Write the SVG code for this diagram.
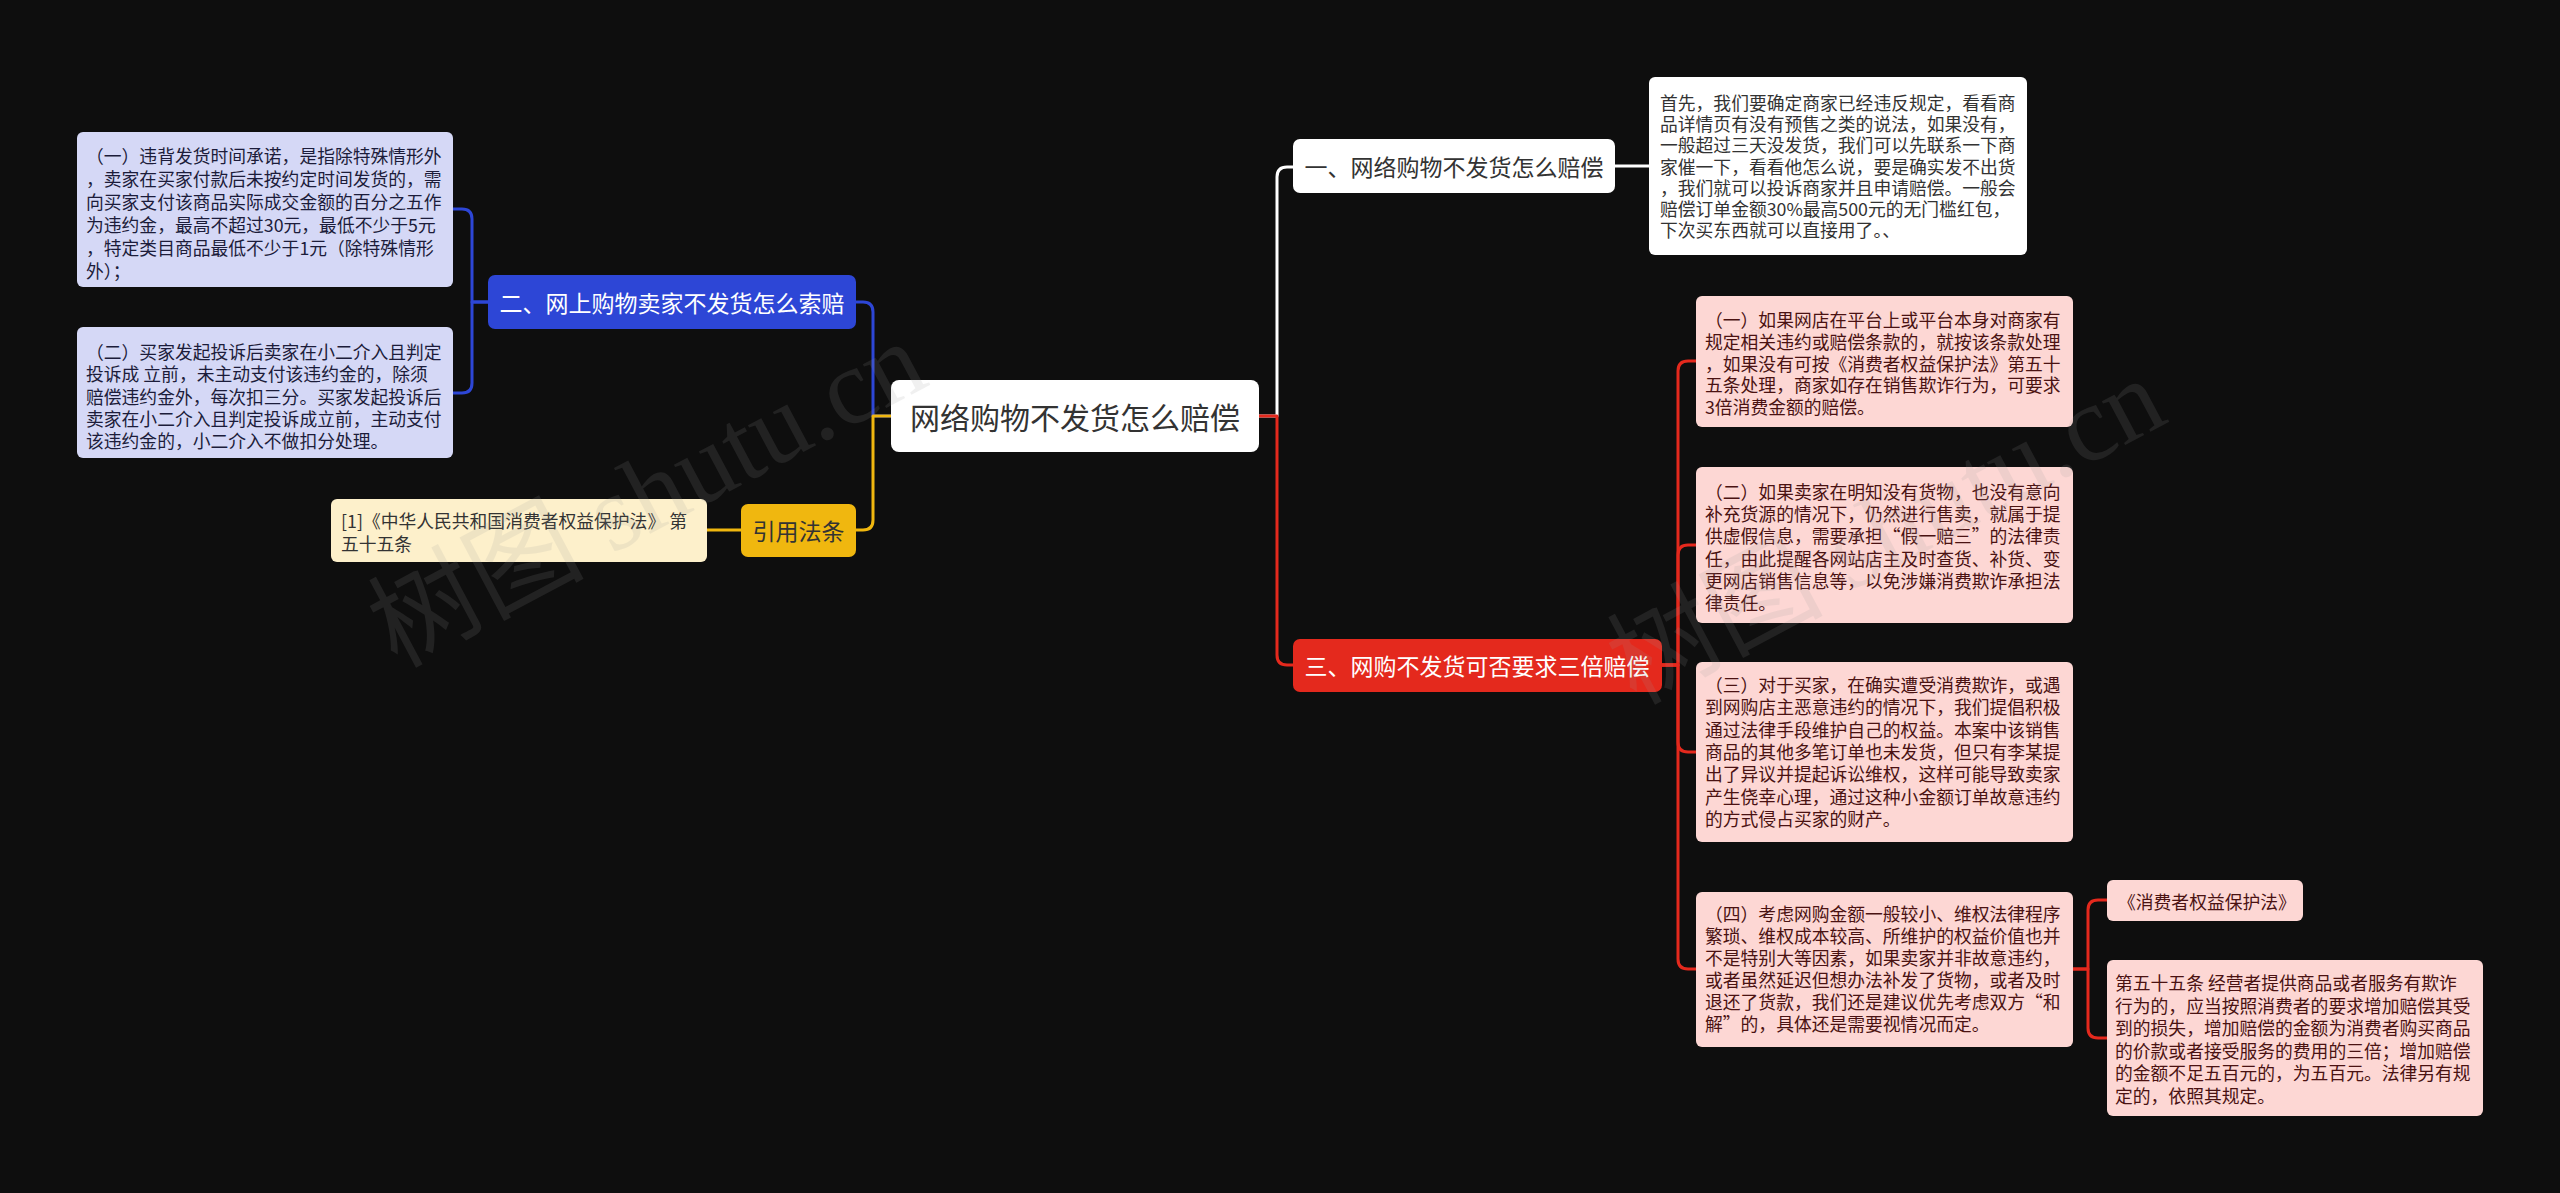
<svg xmlns="http://www.w3.org/2000/svg" width="2560" height="1193" viewBox="0 0 2560 1193">
<defs>
<style>
.t{font-family:"Noto Sans CJK SC","Noto Sans",sans-serif;}
.d{font-size:17.8px;dominant-baseline:central;}
.h{font-size:23px;dominant-baseline:central;text-anchor:middle;}
.c{fill:none;stroke-width:3;stroke-linecap:round;stroke-linejoin:round;}
.wm{font-family:"Liberation Serif","Noto Sans CJK SC",serif;font-size:108px;fill:#9a9a9a;opacity:0.14;}
</style>
</defs>
<rect x="0" y="0" width="2560" height="1193" fill="#0e0e0e"/>

<g id="connectors">
  <path class="c" stroke="#ffffff" d="M1259,416 H1277 V177 Q1277,167 1287,167 H1293"/>
  <path class="c" stroke="#e4291d" d="M1259,416 H1277 V655 Q1277,665 1287,665 H1293"/>
  <path class="c" stroke="#ffffff" d="M1615,166 H1649"/>
  <path class="c" stroke="#e4291d" d="M1662,665 H1678 V371 Q1678,361 1688,361 H1696"/>
  <path class="c" stroke="#e4291d" d="M1662,665 H1678 V555 Q1678,545 1688,545 H1696"/>
  <path class="c" stroke="#e4291d" d="M1662,665 H1678 V742 Q1678,752 1688,752 H1696"/>
  <path class="c" stroke="#e4291d" d="M1662,665 H1678 V959 Q1678,969 1688,969 H1696"/>
  <path class="c" stroke="#e4291d" d="M2073,969 H2088 V910 Q2088,900 2098,900 H2107"/>
  <path class="c" stroke="#e4291d" d="M2073,969 H2088 V1028 Q2088,1038 2098,1038 H2107"/>
  <path class="c" stroke="#2d46d6" d="M891,416 H873 V312 Q873,302 863,302 H856"/>
  <path class="c" stroke="#f0b70f" d="M891,416 H873 V520 Q873,530 863,530 H856"/>
  <path class="c" stroke="#2d46d6" d="M488,302 H472 V219 Q472,209 462,209 H453"/>
  <path class="c" stroke="#2d46d6" d="M488,302 H472 V383 Q472,393 462,393 H453"/>
  <path class="c" stroke="#f0b70f" d="M741,530 H707"/>
</g>

<g id="center">
  <rect x="891" y="380" width="368" height="72" rx="8" fill="#ffffff"/>
  <text class="t" x="1075" y="416" font-size="30" fill="#333333" text-anchor="middle" dominant-baseline="central">网络购物不发货怎么赔偿</text>
</g>

<g id="n1">
  <rect x="1293" y="139" width="322" height="54" rx="7" fill="#ffffff"/>
  <text class="t h" x="1454" y="166" fill="#333333">一、网络购物不发货怎么赔偿</text>
</g>
<g id="n1-detail">
  <rect x="1649" y="77" width="378" height="178" rx="6" fill="#ffffff"/>
  <text class="t d" fill="#333333">
    <tspan x="1660" y="102">首先，我们要确定商家已经违反规定，看看商</tspan>
    <tspan x="1660" y="123.2">品详情页有没有预售之类的说法，如果没有，</tspan>
    <tspan x="1660" y="144.4">一般超过三天没发货，我们可以先联系一下商</tspan>
    <tspan x="1660" y="165.6">家催一下，看看他怎么说，要是确实发不出货</tspan>
    <tspan x="1660" y="186.8">，我们就可以投诉商家并且申请赔偿。一般会</tspan>
    <tspan x="1660" y="208">赔偿订单金额30%最高500元的无门槛红包，</tspan>
    <tspan x="1660" y="229.2">下次买东西就可以直接用了。、</tspan>
  </text>
</g>

<g id="n3">
  <rect x="1293" y="639" width="369" height="53" rx="7" fill="#e4291d"/>
  <text class="t h" x="1477" y="665" fill="#ffffff">三、网购不发货可否要求三倍赔偿</text>
</g>
<g id="n3-1">
  <rect x="1696" y="296" width="377" height="131" rx="6" fill="#fdd7d4"/>
  <text class="t d" fill="#4a1212">
    <tspan x="1705" y="319">（一）如果网店在平台上或平台本身对商家有</tspan>
    <tspan x="1705" y="340.8">规定相关违约或赔偿条款的，就按该条款处理</tspan>
    <tspan x="1705" y="362.6">，如果没有可按《消费者权益保护法》第五十</tspan>
    <tspan x="1705" y="384.4">五条处理，商家如存在销售欺诈行为，可要求</tspan>
    <tspan x="1705" y="406.2">3倍消费金额的赔偿。</tspan>
  </text>
</g>
<g id="n3-2">
  <rect x="1696" y="467" width="377" height="156" rx="6" fill="#fdd7d4"/>
  <text class="t d" fill="#4a1212">
    <tspan x="1705" y="491">（二）如果卖家在明知没有货物，也没有意向</tspan>
    <tspan x="1705" y="513.2">补充货源的情况下，仍然进行售卖，就属于提</tspan>
    <tspan x="1705" y="535.4">供虚假信息，需要承担“假一赔三”的法律责</tspan>
    <tspan x="1705" y="557.6">任，由此提醒各网站店主及时查货、补货、变</tspan>
    <tspan x="1705" y="579.8">更网店销售信息等，以免涉嫌消费欺诈承担法</tspan>
    <tspan x="1705" y="602">律责任。</tspan>
  </text>
</g>
<g id="n3-3">
  <rect x="1696" y="662" width="377" height="180" rx="6" fill="#fdd7d4"/>
  <text class="t d" fill="#4a1212">
    <tspan x="1705" y="684">（三）对于买家，在确实遭受消费欺诈，或遇</tspan>
    <tspan x="1705" y="706.3">到网购店主恶意违约的情况下，我们提倡积极</tspan>
    <tspan x="1705" y="728.6">通过法律手段维护自己的权益。本案中该销售</tspan>
    <tspan x="1705" y="750.9">商品的其他多笔订单也未发货，但只有李某提</tspan>
    <tspan x="1705" y="773.2">出了异议并提起诉讼维权，这样可能导致卖家</tspan>
    <tspan x="1705" y="795.5">产生侥幸心理，通过这种小金额订单故意违约</tspan>
    <tspan x="1705" y="817.8">的方式侵占买家的财产。</tspan>
  </text>
</g>
<g id="n3-4">
  <rect x="1696" y="892" width="377" height="155" rx="6" fill="#fdd7d4"/>
  <text class="t d" fill="#4a1212">
    <tspan x="1705" y="913">（四）考虑网购金额一般较小、维权法律程序</tspan>
    <tspan x="1705" y="935">繁琐、维权成本较高、所维护的权益价值也并</tspan>
    <tspan x="1705" y="957">不是特别大等因素，如果卖家并非故意违约，</tspan>
    <tspan x="1705" y="979">或者虽然延迟但想办法补发了货物，或者及时</tspan>
    <tspan x="1705" y="1001">退还了货款，我们还是建议优先考虑双方“和</tspan>
    <tspan x="1705" y="1023">解”的，具体还是需要视情况而定。</tspan>
  </text>
</g>
<g id="n3-4-1">
  <rect x="2107" y="880" width="196" height="41" rx="6" fill="#fdd7d4"/>
  <text class="t d" x="2118" y="901" fill="#4a1212">《消费者权益保护法》</text>
</g>
<g id="n3-4-2">
  <rect x="2107" y="960" width="376" height="156" rx="6" fill="#fdd7d4"/>
  <text class="t d" fill="#4a1212" xml:space="preserve"><tspan x="2115" y="982">第五十五条 经营者提供商品或者服务有欺诈</tspan><tspan x="2115" y="1004.6">行为的，应当按照消费者的要求增加赔偿其受</tspan><tspan x="2115" y="1027.2">到的损失，增加赔偿的金额为消费者购买商品</tspan><tspan x="2115" y="1049.8">的价款或者接受服务的费用的三倍；增加赔偿</tspan><tspan x="2115" y="1072.4">的金额不足五百元的，为五百元。法律另有规</tspan><tspan x="2115" y="1095">定的，依照其规定。</tspan></text>
</g>

<g id="n2">
  <rect x="488" y="275" width="368" height="54" rx="7" fill="#2d46d6"/>
  <text class="t h" x="672" y="302" fill="#ffffff">二、网上购物卖家不发货怎么索赔</text>
</g>
<g id="n2-1">
  <rect x="77" y="132" width="376" height="155" rx="6" fill="#d5d8f6"/>
  <text class="t d" fill="#1c1c3a">
    <tspan x="86" y="155">（一）违背发货时间承诺，是指除特殊情形外</tspan>
    <tspan x="86" y="178">，卖家在买家付款后未按约定时间发货的，需</tspan>
    <tspan x="86" y="201">向买家支付该商品实际成交金额的百分之五作</tspan>
    <tspan x="86" y="224">为违约金，最高不超过30元，最低不少于5元</tspan>
    <tspan x="86" y="247">，特定类目商品最低不少于1元（除特殊情形</tspan>
    <tspan x="86" y="270">外）；</tspan>
  </text>
</g>
<g id="n2-2">
  <rect x="77" y="327" width="376" height="131" rx="6" fill="#d5d8f6"/>
  <text class="t d" fill="#1c1c3a" xml:space="preserve"><tspan x="86" y="351">（二）买家发起投诉后卖家在小二介入且判定</tspan><tspan x="86" y="373.3">投诉成 立前，未主动支付该违约金的，除须</tspan><tspan x="86" y="395.6">赔偿违约金外，每次扣三分。买家发起投诉后</tspan><tspan x="86" y="417.9">卖家在小二介入且判定投诉成立前，主动支付</tspan><tspan x="86" y="440.2">该违约金的，小二介入不做扣分处理。</tspan></text>
</g>

<g id="cite">
  <rect x="741" y="504" width="115" height="53" rx="7" fill="#f0b70f"/>
  <text class="t h" x="798.5" y="530" fill="#333333">引用法条</text>
</g>
<g id="cite-1">
  <rect x="331" y="499" width="376" height="63" rx="6" fill="#fdf0cb"/>
  <text class="t d" fill="#333333" xml:space="preserve"><tspan x="341" y="520">[1]《中华人民共和国消费者权益保护法》 第</tspan><tspan x="341" y="543">五十五条</tspan></text>
</g>

<g id="watermarks">
  <text class="wm" x="647" y="494" text-anchor="middle" dominant-baseline="central" transform="rotate(-28 647 494)">树图 shutu.cn</text>
  <text class="wm" x="1886" y="531" text-anchor="middle" dominant-baseline="central" transform="rotate(-28 1886 531)">树图 shutu.cn</text>
</g>
</svg>
